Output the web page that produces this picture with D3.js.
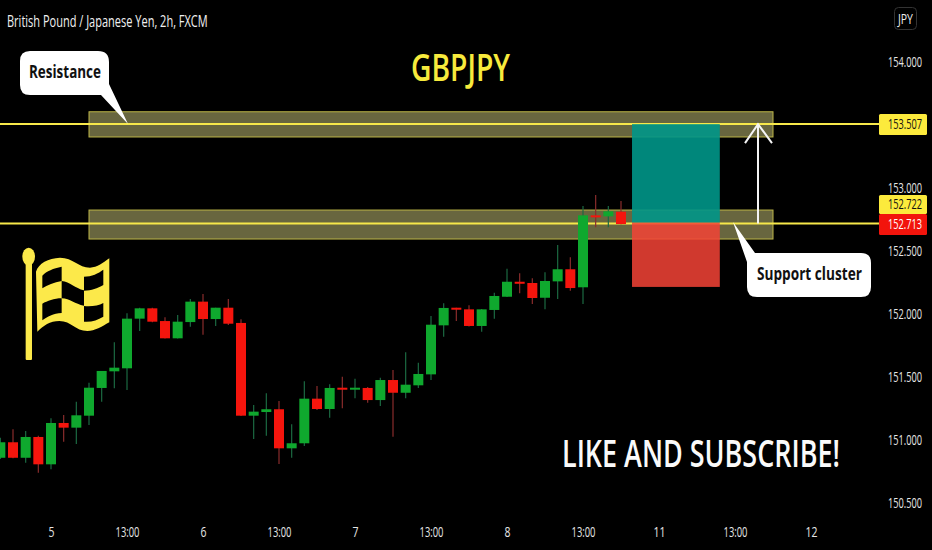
<!DOCTYPE html>
<html><head><meta charset="utf-8">
<style>html,body{margin:0;padding:0;background:#000;overflow:hidden}svg{display:block;font-family:"Open Sans",sans-serif}</style>
<script src="https://cdn.jsdelivr.net/npm/d3@7"></script></head><body><svg id="c" width="932" height="550"></svg>
<script>
const open=[150.859,150.982,150.859,151.024,150.807,151.135,151.098,151.193,151.413,151.545,151.569,151.963,152.045,151.944,151.807,151.936,152.098,151.960,152.050,151.929,151.193,151.222,151.244,150.934,150.974,151.328,151.246,151.415,151.405,151.413,151.317,151.476,151.375,151.434,151.521,151.910,152.050,152.037,151.905,152.032,152.137,152.256,152.246,152.129,152.259,152.355,152.212,152.783,152.775,152.812];
const close=[150.982,150.859,151.024,150.807,151.135,151.098,151.196,151.415,151.548,151.574,151.963,152.045,151.939,151.807,151.939,152.098,151.960,152.050,151.923,151.193,151.225,151.244,150.934,150.974,151.328,151.246,151.413,151.405,151.415,151.317,151.476,151.375,151.439,151.524,151.915,152.048,152.034,151.905,152.037,152.143,152.256,152.240,152.127,152.262,152.355,152.206,152.783,152.772,152.815,152.714];
const high=[151.018,151.085,151.071,151.034,151.172,151.198,151.304,151.455,151.548,151.775,152.005,152.050,152.050,151.974,151.992,152.119,152.159,152.050,152.119,151.958,151.278,151.371,151.309,151.125,151.466,151.429,151.442,151.502,151.486,151.420,151.494,151.555,151.696,151.613,151.984,152.085,152.050,152.069,152.040,152.169,152.359,152.323,152.283,152.331,152.548,152.450,152.857,152.944,152.857,152.897];
const low=[150.849,150.855,150.820,150.740,150.767,150.986,150.968,151.119,151.304,151.410,151.397,151.865,151.935,151.805,151.805,151.899,151.836,151.905,151.913,151.190,151.008,151.034,150.809,150.859,150.952,151.238,151.177,151.252,151.331,151.296,151.270,151.026,151.331,151.413,151.476,151.820,151.944,151.900,151.859,151.963,152.135,152.164,152.079,152.037,152.119,152.185,152.079,152.688,152.688,152.713];
const priceTicks=[154,153,152.5,152,151.5,151,150.5];
const timeTickIndex=[4,10,16,22,28,34,40,46,52,58,64];
const timeTickLabels=["5","13:00","6","13:00","7","13:00","8","13:00","11","13:00","12"];
const levels=[153.507,152.718];
const resistanceZone=[153.605,153.405];
const supportZone=[152.825,152.595];
const zoneIndex=[7,61];
const positionIndex=[49.87,56.8];
const positionPrices=[153.507,152.725,152.215];

const svg=d3.select("#c");
const x=d3.scaleLinear().domain([4,64]).range([51,811]);
const y=d3.scaleLinear().domain([154,150.5]).range([62,503]);
// squeeze a text horizontally to a target width, about its anchor x
const fit=(s,len)=>s.each(function(){
  const n=this.getComputedTextLength(),ax=+this.getAttribute("x")||0;
  this.setAttribute("transform",`translate(${ax},0) scale(${len/n},1) translate(${-ax},0)`);
});

[resistanceZone,supportZone].forEach(z=>{
  svg.append("rect").attr("x",x(zoneIndex[0])).attr("width",x(zoneIndex[1])-x(zoneIndex[0]))
    .attr("y",y(z[0])).attr("height",y(z[1])-y(z[0]))
    .attr("fill","#68663f").attr("stroke","#bdb648").attr("stroke-width",1);
});
levels.forEach(l=>svg.append("line").attr("x1",0).attr("x2",880).attr("y1",y(l)).attr("y2",y(l)).attr("stroke","#f7e84a").attr("stroke-width",2));

const idx=d3.range(open.length);
const up=i=>close[i]>=open[i];
svg.append("g").selectAll("line").data(idx).join("line")
  .attr("x1",i=>x(i)).attr("x2",i=>x(i)).attr("y1",i=>y(high[i])).attr("y2",i=>y(low[i]))
  .attr("stroke",i=>up(i)?"#1b6a42":"#8a2c2c").attr("stroke-width",1.2);
svg.append("g").selectAll("rect").data(idx).join("rect")
  .attr("x",i=>x(i)-5).attr("width",10)
  .attr("y",i=>y(Math.max(open[i],close[i])))
  .attr("height",i=>Math.max(2,Math.abs(y(open[i])-y(close[i]))))
  .attr("fill",i=>up(i)?"#0fa82e":"#f5150d");

const px0=x(positionIndex[0]),pw=x(positionIndex[1])-px0;
svg.append("rect").attr("x",px0).attr("width",pw).attr("y",y(positionPrices[0])).attr("height",y(positionPrices[1])-y(positionPrices[0])).attr("fill","rgba(0,150,136,0.9)");
svg.append("rect").attr("x",px0).attr("width",pw).attr("y",y(positionPrices[1])).attr("height",y(positionPrices[2])-y(positionPrices[1])).attr("fill","rgba(244,67,54,0.85)");

// arrow
const ax=758,ay0=y(levels[1]),ay1=y(levels[0]);
svg.append("path").attr("d",`M${ax},${ay0}L${ax},${ay1}M${ax-13},${ay1+19}L${ax},${ay1}L${ax+14},${ay1+19}`).attr("fill","none").attr("stroke","#f4f4f4").attr("stroke-width",2);

// callouts
const white="#fff";
svg.append("path").attr("fill",white).attr("d","M30,51H98Q109,51 109,62V84L128,124L101,95H30Q20,95 20,85V61Q20,51 30,51Z");
fit(svg.append("text").attr("x",29).attr("y",78).attr("font-size",17).attr("font-weight",700).attr("fill","#111").text("Resistance"),72);
svg.append("path").attr("fill",white).attr("d","M755,253L733,222L747,262V287Q747,297 757,297H861Q871,297 871,287V263Q871,253 861,253Z");
fit(svg.append("text").attr("x",757).attr("y",280).attr("font-size",17).attr("font-weight",700).attr("fill","#111").text("Support cluster"),105);

// flag icon
const flag=svg.append("g").attr("transform","translate(10,235) scale(0.3333)").attr("fill","#fce94a");
flag.append("rect").attr("x",47).attr("y",70).attr("width",19).attr("height",305).attr("rx",3);
flag.append("ellipse").attr("cx",56).attr("cy",65).attr("rx",19).attr("ry",27);
flag.append("path").attr("d","M78,110C85,85 115,70 150,68C190,68 205,98 240,98C262,98 280,82 298,70L298,262C275,275 255,288 232,288C195,288 185,258 148,258C120,258 100,272 82,290Z");
const holes=flag.append("g").attr("fill","#000");
["M97,122C110,108 130,100 155,95L155,138C132,142 112,150 97,160Z",
 "M155,138C180,140 195,160 222,166L222,212C195,208 180,190 155,190Z",
 "M222,125C245,125 265,115 280,104L280,150C262,160 245,167 222,167Z",
 "M97,206C112,198 132,190 155,190L155,234C130,235 112,245 97,256Z",
 "M222,213C245,215 265,212 280,204L280,245C262,255 245,262 222,260Z"]
 .forEach(d=>holes.append("path").attr("d",d));

// headings
fit(svg.append("text").attr("x",7).attr("y",27).attr("font-size",16).attr("font-weight",500).attr("fill","#f0f0f0").text("British Pound / Japanese Yen, 2h, FXCM"),201);
fit(svg.append("text").attr("x",411).attr("y",81).attr("font-size",38).attr("font-weight",600).attr("fill","#f7ea3c").text("GBPJPY"),99);
fit(svg.append("text").attr("x",562).attr("y",467).attr("font-size",38).attr("font-weight",600).attr("fill","#fafafa").text("LIKE AND SUBSCRIBE!"),278);

// axes
const ya=svg.append("g").attr("transform","translate(888,0)").call(d3.axisRight(y).tickValues(priceTicks).tickSize(0).tickPadding(0).tickFormat(d3.format(".3f")));
ya.select(".domain").remove();
ya.selectAll("text").attr("fill","#e6e6e6").attr("font-size",14).attr("font-weight",500).attr("font-family","'Open Sans',sans-serif").call(fit,34);
const xa=svg.append("g").attr("transform","translate(0,527)").call(d3.axisBottom(x).tickValues(timeTickIndex).tickSize(0).tickPadding(0).tickFormat((d,i)=>timeTickLabels[i]));
xa.select(".domain").remove();
xa.selectAll("text").attr("fill","#e6e6e6").attr("font-size",14).attr("font-weight",500).attr("font-family","'Open Sans',sans-serif")
  .each(function(d,i){const s=timeTickLabels[i];d3.select(this).call(fit,s.length>2?24:s.length*6);});

// price tags
const tags=[[114,21,"#fcea3c","#111","153.507"],[195,19,"#fcea3c","#111","152.722"],[214,21,"#f2140c","#fff","152.713"]];
tags.forEach(t=>{
  svg.append("rect").attr("x",879).attr("y",t[0]).attr("width",48).attr("height",t[1]).attr("rx",1.5).attr("fill",t[2]);
  fit(svg.append("text").attr("x",888).attr("y",t[0]+t[1]/2+5).attr("font-size",14).attr("font-weight",500).attr("fill",t[3]).text(t[4]),34);
});
svg.append("rect").attr("x",894.5).attr("y",7.5).attr("width",22).attr("height",22).attr("rx",4).attr("fill","none").attr("stroke","#333");
fit(svg.append("text").attr("x",898).attr("y",24).attr("font-size",14).attr("font-weight",500).attr("fill","#eee").text("JPY"),15);
</script></body></html>
